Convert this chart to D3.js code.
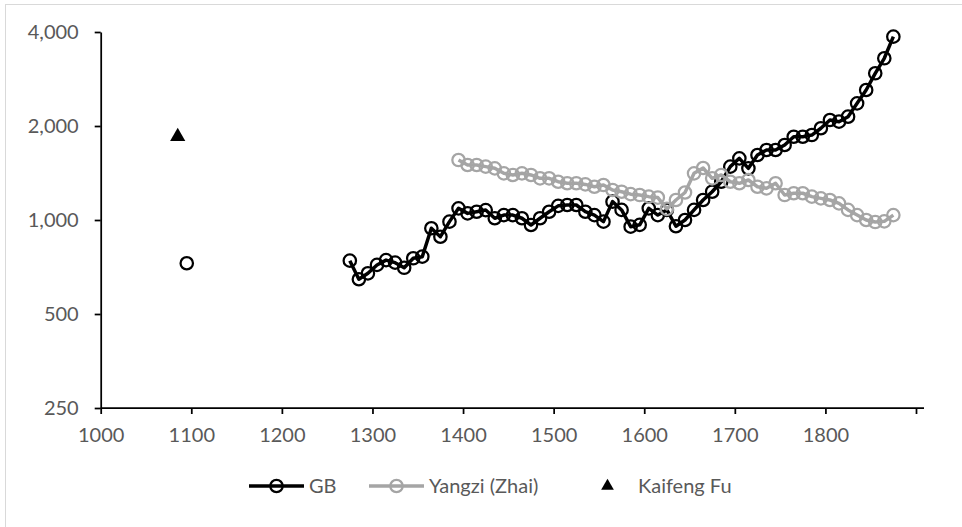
<!DOCTYPE html>
<meta charset="utf-8">
<head>
  <title>GDP per head, GB and Yangzi</title>
</head>

<style>
body {
  margin: 0;
  background: #fff;
}
text {
  font-family: Lato, "Open Sans", sans-serif;
  fill: #595959;
  font-size: 20px;
}
.axis path, .axis line {
  stroke: #000;
  stroke-width: 1.75;
}
</style>

<body>
  <svg id="chart" width="962" height="527"></svg>

  <script src="https://cdnjs.cloudflare.com/ajax/libs/d3/7.8.5/d3.min.js"></script>
  <script>
// GB: one early point, then decades 1275..1875 (null = gap in the line)
var gbYears = [1095, 1200,
  1275, 1285, 1295, 1305, 1315, 1325, 1335, 1345, 1355, 1365,
  1375, 1385, 1395, 1405, 1415, 1425, 1435, 1445, 1455, 1465,
  1475, 1485, 1495, 1505, 1515, 1525, 1535, 1545, 1555, 1565,
  1575, 1585, 1595, 1605, 1615, 1625, 1635, 1645, 1655, 1665,
  1675, 1685, 1695, 1705, 1715, 1725, 1735, 1745, 1755, 1765,
  1775, 1785, 1795, 1805, 1815, 1825, 1835, 1845, 1855, 1865, 1875]
var gbValues = [727, null,
  741, 646, 675, 718, 744, 730, 703, 754, 763, 941,
  884, 988, 1090, 1050, 1063, 1076, 1013, 1037, 1037, 1013,
  964, 1013, 1063, 1110, 1117, 1117, 1063, 1037, 988, 1145,
  1077, 952, 965, 1090, 1037, 1077, 955, 1000, 1077, 1159,
  1232, 1326, 1482, 1576, 1464, 1615, 1676, 1676, 1739, 1848,
  1848, 1871, 1967, 2090, 2065, 2142, 2364, 2608, 2950, 3295, 3864]

var yzYears = [
  1395, 1405, 1415, 1425, 1435, 1445, 1455, 1465, 1475, 1485,
  1495, 1505, 1515, 1525, 1535, 1545, 1555, 1565, 1575, 1585,
  1595, 1605, 1615, 1625, 1635, 1645, 1655, 1665, 1675, 1685,
  1695, 1705, 1715, 1725, 1735, 1745, 1755, 1765, 1775, 1785,
  1795, 1805, 1815, 1825, 1835, 1845, 1855, 1865, 1875]
var yzValues = [
  1556, 1500, 1500, 1482, 1464, 1411, 1394, 1411, 1394, 1360,
  1360, 1326, 1311, 1311, 1300, 1278, 1294, 1248, 1232, 1210,
  1202, 1188, 1180, 1085, 1159, 1225, 1411, 1467, 1360, 1394,
  1326, 1311, 1343, 1278, 1263, 1311, 1202, 1218, 1218, 1188,
  1173, 1159, 1131, 1077, 1037, 1000, 985, 990, 1037]

var kfYears = [1085]
var kfValues = [1850]

var xTicks = [1000, 1100, 1200, 1300, 1400, 1500, 1600, 1700, 1800, 1900]
var yTicks = [250, 500, 1000, 2000, 4000]

var svg = d3.select('#chart')

// light frame of the chart area
svg.append('rect')
  .attr('x', 5.5).attr('y', 4.5)
  .attr('width', 1000).attr('height', 1000)
  .attr('fill', 'none')
  .attr('stroke', '#d9d9d9')

var x = d3.scaleLinear().domain([1000, 1900]).range([100.7, 916])
var y = d3.scaleLog().base(2).domain([250, 4000]).range([408, 32])

var gb = gbYears.map(function(d, i) { return {x: d, v: gbValues[i]} })
var yz = yzYears.map(function(d, i) { return {x: d, v: yzValues[i]} })
var kf = kfYears.map(function(d, i) { return {x: d, v: kfValues[i]} })

// axes
var xAxis = svg.append('g')
  .attr('class', 'axis')
  .attr('transform', 'translate(0,' + y(250) + ')')
  .call(d3.axisBottom(x).tickValues(xTicks).tickSize(6).tickSizeOuter(0).tickPadding(14)
    .tickFormat(function(d) { return d == 1900 ? '' : d }))
xAxis.select('.domain').attr('d', 'M' + x(1000) + ',0H' + (x(1900) + 8))

var yAxis = svg.append('g')
  .attr('class', 'axis')
  .attr('transform', 'translate(' + x(1000) + ',0)')
  .call(d3.axisLeft(y).tickValues(yTicks).tickSize(6).tickSizeOuter(0).tickPadding(16)
    .tickFormat(d3.format(',')))

svg.selectAll('.axis text').style('fill', '#595959').style('font-size', '20px')

var line = d3.line()
  .defined(function(d) { return d.v != null })
  .x(function(d) { return x(d.x) })
  .y(function(d) { return y(d.v) })

function drawSeries(data, color) {
  var g = svg.append('g')
  g.append('path')
    .datum(data)
    .attr('d', line)
    .attr('fill', 'none')
    .attr('stroke', color)
    .attr('stroke-width', 3.5)
    .attr('stroke-linejoin', 'round')
  g.selectAll('circle')
    .data(data.filter(function(d) { return d.v != null }))
    .enter()
    .append('circle')
    .attr('cx', function(d) { return x(d.x) })
    .attr('cy', function(d) { return y(d.v) })
    .attr('r', 6.2)
    .attr('fill', 'none')
    .attr('stroke', color)
    .attr('stroke-width', 2.25)
}

drawSeries(gb, '#000')
drawSeries(yz, '#a5a5a5')

svg.append('g').selectAll('path')
  .data(kf)
  .enter()
  .append('path')
  .attr('d', d3.symbol(d3.symbolTriangle, 100))
  .attr('transform', function(d) { return 'translate(' + x(d.x) + ',' + y(d.v) + ')' })
  .attr('fill', '#000')

// legend
var legY = 486
var leg = svg.append('g')
var items = [
  {name: 'GB', color: '#000', x0: 249, type: 'line'},
  {name: 'Yangzi (Zhai)', color: '#a5a5a5', x0: 369, type: 'line'},
  {name: 'Kaifeng Fu', color: '#000', x0: 580, type: 'tri'}
]
items.forEach(function(it) {
  if (it.type == 'line') {
    leg.append('line')
      .attr('x1', it.x0).attr('x2', it.x0 + 55)
      .attr('y1', legY).attr('y2', legY)
      .attr('stroke', it.color).attr('stroke-width', 3.5)
    leg.append('circle')
      .attr('cx', it.x0 + 27.5).attr('cy', legY).attr('r', 6.2)
      .attr('fill', 'none').attr('stroke', it.color).attr('stroke-width', 2.25)
    leg.append('text')
      .attr('x', it.x0 + 60).attr('y', legY).attr('dy', '0.36em')
      .text(it.name)
  } else {
    leg.append('path')
      .attr('d', d3.symbol(d3.symbolTriangle, 70))
      .attr('transform', 'translate(' + (it.x0 + 27.5) + ',' + legY + ')')
      .attr('fill', it.color)
    leg.append('text')
      .attr('x', it.x0 + 58).attr('y', legY).attr('dy', '0.36em')
      .text(it.name)
  }
})
  </script>
</body>
</html>
